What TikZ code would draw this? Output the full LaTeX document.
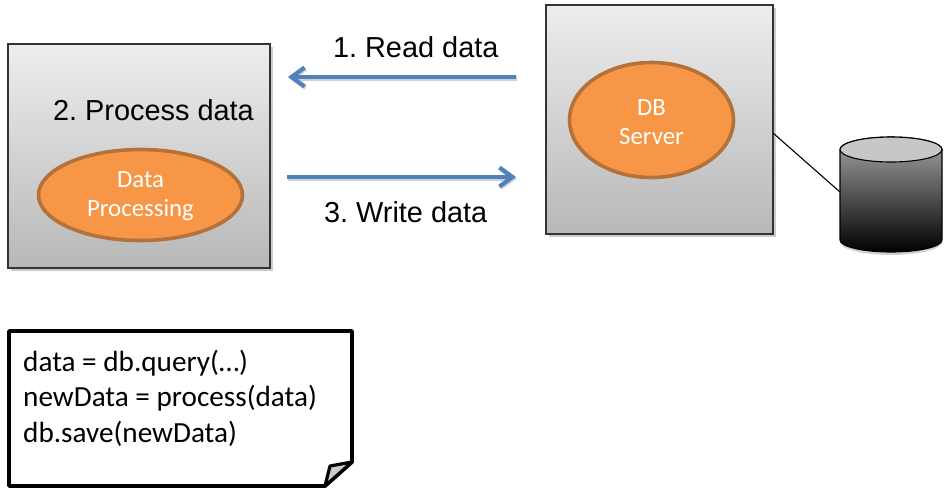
\documentclass[tikz,border=0pt]{standalone}
\usepackage{fontspec}
\setmainfont{Liberation Sans}
\newfontfamily\calib{Carlito}
\usetikzlibrary{shapes.geometric,arrows.meta}
\definecolor{flowblue}{HTML}{4F81BD}
\definecolor{orangefill}{HTML}{F79646}
\definecolor{orangeedge}{HTML}{B5713A}
\frenchspacing
\tikzset{
  x=1pt,y=-1pt,
  serverbox/.style={draw=black!80,line width=1.3pt,top color=black!7,bottom color=black!28,minimum width=#1,inner sep=0pt,outer sep=0pt},
  blob/.style={ellipse,draw=orangeedge,line width=3.6pt,fill=orangefill,inner sep=0pt,outer sep=0pt},
  blobtext/.style={text=white,inner sep=0pt,outer sep=0pt,align=center,font=\calib\fontsize{24.8}{29}\selectfont},
  flow/.style={draw=flowblue,line width=4.2pt,-{Straight Barb[length=13pt,width=19pt,line width=4.2pt]}},
  flowshadow/.style={draw=black!18,line width=4.2pt,-{Straight Barb[length=13pt,width=19pt,line width=4.2pt]}},
  lab/.style={inner sep=0pt,outer sep=0pt,font=\fontsize{28.9}{32}\selectfont,anchor=base west},
}
\begin{document}
\begin{tikzpicture}
\useasboundingbox (0,0) rectangle (949,490);
% shadows
\fill[black!20] (11,47) rectangle (273,271);
\fill[black!20] (549,8) rectangle (776,237);
% boxes
\node[serverbox=262pt,minimum height=224pt,anchor=north west] (proc) at (8,44) {};
\node[serverbox=227pt,minimum height=229pt,anchor=north west] (server) at (546,5) {};
% ellipses
\node[blob,minimum width=204pt,minimum height=91pt] (dp) at (140.5,195) {};
\node[blob,minimum width=164pt,minimum height=115pt] (dbs) at (651.5,120) {};
\node[blobtext] (dpt) at (140.5,196.5) {Data\\Processing};
\node[blobtext] (dbt) at (651.5,122) {DB\\Server};
% arrows
\coordinate (a1s) at (516,77); \coordinate (a1e) at (288,77);
\coordinate (a2s) at (287,177); \coordinate (a2e) at (516,177);
\draw[flowshadow,transform canvas={shift={(1pt,-1.5pt)}}] (a1s) -- (a1e);
\draw[flowshadow,transform canvas={shift={(1pt,-1.5pt)}}] (a2s) -- (a2e);
\draw[flow] (a1s) -- (a1e);
\draw[flow] (a2s) -- (a2e);
% labels
\node[lab] (l1) at (333,57) {1. Read data};
\node[lab] (l2) at (53,120) {2. Process data};
\node[lab] (l3) at (324,222) {3. Write data};
% cylinder
\fill[black!18] (840,152) -- (840,242) arc[start angle=180,end angle=0,x radius=51,y radius=13] -- (942,152) -- cycle;
\shade[top color=black!35,bottom color=black,draw=black,line width=1.1pt]
  (840,149.5) -- (840,240) arc[start angle=180,end angle=0,x radius=51,y radius=12] -- (942,149.5) arc[start angle=0,end angle=-180,x radius=51,y radius=12.5] -- cycle;
\draw[fill=black!22,line width=1.1pt] (891,149.5) ellipse[x radius=51,y radius=12.5];
\coordinate (cylside) at (840,192);
\coordinate (servside) at (773,133);
\draw[line width=1.1pt] (servside) -- (cylside);
% note
\draw[line width=3.8pt,line join=round,fill=white] (9,331) -- (352,331) -- (352,462) -- (325,486) -- (9,486) -- cycle;
\draw[line width=3.2pt,line join=round,fill=black!20] (352,462) -- (330,466) -- (325,486) -- cycle;
\node[inner sep=0pt,anchor=base west,font=\calib\fontsize{29.2}{35.5}\selectfont,align=left] (code) at (23,442) {data = db.query(…)\\newData = process(data)\\db.save(newData)};
\end{tikzpicture}
\end{document}
